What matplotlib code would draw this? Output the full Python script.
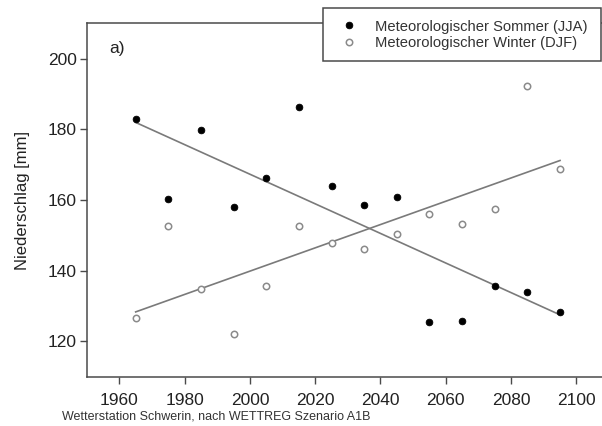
import numpy as np
import matplotlib
matplotlib.use("Agg")
import matplotlib.pyplot as plt
from matplotlib.patches import Rectangle

plt.rcParams['font.family'] = ['Liberation Sans', 'DejaVu Sans']

# Daten: Niederschlag je Dekade (Mitte der Dekade)
years = [1965, 1975, 1985, 1995, 2005, 2015, 2025, 2035, 2045, 2055, 2065, 2075, 2085, 2095]
sommer = [182.9, 160.2, 179.8, 158.1, 166.1, 186.3, 164.1, 158.5, 160.9, 125.5, 125.8, 135.7, 133.9, 128.4]
winter = [126.6, 152.6, 134.7, 122.2, 135.8, 152.7, 147.9, 146.0, 150.3, 155.9, 153.3, 157.5, 192.3, 168.8]
xticks = [1960, 1980, 2000, 2020, 2040, 2060, 2080, 2100]
yticks = [120, 140, 160, 180, 200]

W, H = 602, 426
fig = plt.figure(figsize=(W / 100, H / 100), dpi=100)
ax = fig.add_axes([86.7 / W, 1 - 376.7 / H, (609 - 86.7) / W, (376.7 - 23.3) / H])

x = np.array(years)
for vals in (sommer, winter):
    k, d = np.polyfit(x, np.array(vals), 1)
    ax.plot([x[0], x[-1]], [k * x[0] + d, k * x[-1] + d], color='#7a7a7a', lw=1.2, zorder=2)

h1, = ax.plot(years, sommer, 'o', ms=4.8, mfc='black', mec='black', mew=0.6, ls='none',
              label='Meteorologischer Sommer (JJA)', zorder=3)
h2, = ax.plot(years, winter, 'o', ms=4.6, mfc='white', mec='#8a8a8a', mew=1.1, ls='none',
              label='Meteorologischer Winter (DJF)', zorder=3)

ax.set_xlim(1950, 2110)
ax.set_ylim(110, 210)
ax.set_xticks(xticks)
ax.set_yticks(yticks)
for s in ax.spines.values():
    s.set_color('#4a4a4a')
    s.set_linewidth(1.1)
ax.tick_params(axis='both', direction='out', length=5, width=1.0, color='#4a4a4a',
               labelsize=12.5, labelcolor='#222222')
ax.tick_params(axis='x', pad=6.5)
ax.tick_params(axis='y', pad=2)

ax.set_ylabel('Niederschlag [mm]', fontsize=12, color='#222222')
ax.yaxis.set_label_coords((29.7 - 86.7) / (609 - 86.7), 0.5)

ax.text(109 / W, 1 - 49 / H, 'a)', transform=fig.transFigure, fontsize=12.5,
        color='#222222', va='center', ha='left')

# Legendenkasten
fig.patches.append(Rectangle((323.3 / W, 1 - 61 / H), (601 - 323.3) / W, (61 - 8.3) / H,
                             transform=fig.transFigure, facecolor='white', edgecolor='#4a4a4a',
                             lw=1.1, zorder=5))
leg = fig.legend(handles=[h1, h2], loc='upper left', bbox_to_anchor=(342 / W, 1 - 19.5 / H),
                 frameon=False, fontsize=10.6, handlelength=1.0, handletextpad=1.25,
                 labelspacing=0.2, borderpad=0, borderaxespad=0)
leg.set_zorder(6)
for t in leg.get_texts():
    t.set_color('#333333')

fig.text(61.7 / W, 1 - 416.5 / H, 'Wetterstation Schwerin, nach WETTREG Szenario A1B',
         fontsize=9, color='#333333', va='center', ha='left')

fig.savefig('out.png', dpi=100)
